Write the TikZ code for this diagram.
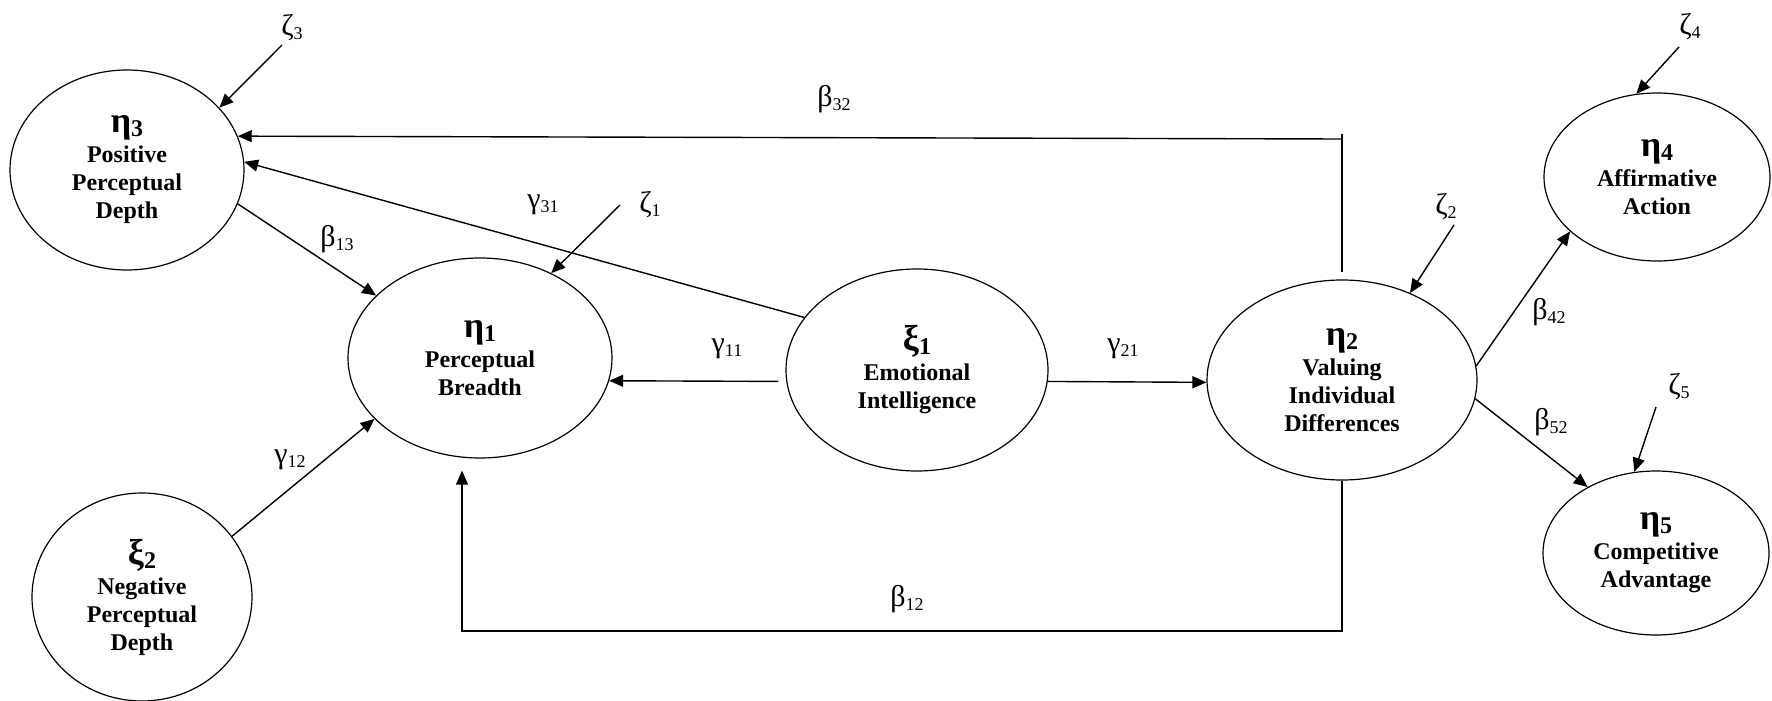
\documentclass[tikz,border=0pt]{standalone}
\usepackage{fontspec}
\setmainfont{Liberation Serif}
\usetikzlibrary{arrows.meta, shapes.geometric}

% latent variable label: large greek letter with bold index
\newcommand{\lat}[2]{{\fontsize{18}{18}\selectfont #1}\raisebox{-2pt}{#2}}
% path coefficient label
\newcommand{\cf}[2]{{\fontsize{15}{16}\selectfont #1}\raisebox{-2pt}{\fontsize{9}{10}\selectfont #2}}

\tikzset{
  latent/.style={draw, ellipse, line width=0.6pt, inner sep=0pt, align=center,
    font=\bfseries\fontsize{12}{14}\selectfont},
  effect/.style={line width=0.7pt, -{Triangle[length=7pt,width=6pt]}},
  link/.style={line width=0.7pt},
  coef/.style={inner sep=1pt},
}

\begin{document}
\begin{tikzpicture}[x=0.5pt, y=-0.5pt]
    \useasboundingbox (0,0) rectangle (1772,701);

    % --- latent variables ---
    \node[latent, minimum width=117pt, minimum height=100pt] (eta3) at (127,170)
        {\lat{η}{3}\\[1pt]Positive\\Perceptual\\Depth};
    \node[latent, minimum width=132pt, minimum height=100pt] (eta1) at (480,358)
        {\lat{η}{1}\\[1pt]Perceptual\\Breadth};
    \node[latent, minimum width=131pt, minimum height=101pt] (xi1) at (917,370)
        {\lat{ξ}{1}\\[1pt]Emotional\\Intelligence};
    \node[latent, minimum width=135pt, minimum height=100pt] (eta2) at (1342,380)
        {\lat{η}{2}\\[1pt]Valuing\\Individual\\Differences};
    \node[latent, minimum width=113pt, minimum height=84pt] (eta4) at (1657,177)
        {\lat{η}{4}\\[1pt]Affirmative\\Action};
    \node[latent, minimum width=113pt, minimum height=82pt] (eta5) at (1656,553)
        {\lat{η}{5}\\[1pt]Competitive\\Advantage};
    \node[latent, minimum width=110pt, minimum height=104pt] (xi2) at (142,597)
        {\lat{ξ}{2}\\[1pt]Negative\\Perceptual\\Depth};

    % --- disturbances ---
    \node[coef] (z3) at (292,28) {\cf{ζ}{3}};
    \node[coef] (z1) at (650,205) {\cf{ζ}{1}};
    \node[coef] (z2) at (1446,207) {\cf{ζ}{2}};
    \node[coef] (z4) at (1690,27) {\cf{ζ}{4}};
    \node[coef] (z5) at (1679,387) {\cf{ζ}{5}};
    \coordinate (z3s) at (282,45);
    \coordinate (z1s) at (620,205);
    \coordinate (z2s) at (1454,225);
    \coordinate (z4s) at (1679,47);
    \coordinate (z5s) at (1656,407);

    \draw[effect] (z3s) -- (eta3.34);
    \draw[effect] (z1s) -- (eta1.50);
    \draw[effect] (z2s) -- (eta2.52);
    \draw[effect] (z4s) -- (eta4.104);
    \draw[effect] (z5s) -- (eta5.105);

    % --- structural paths ---
    \draw[effect, shorten <=4pt] (xi1.185) -- (eta1.-10);
    \draw[effect] (xi1.-5) -- (eta2.181);
    \draw[effect] (xi1.155) -- (eta3.4);
    \draw[effect] (eta3.-17) -- (eta1.149);
    \draw[effect] (xi2.34) -- (eta1.210);
    \draw[effect] (eta2.6) -- (eta4.212);
    \draw[effect] (eta2.-8) -- (eta5.136);

    % feedback eta2 -> eta3 over the top
    \coordinate (b32) at (1342,139);
    \draw[link, shorten <=3.5pt] (eta2.north) -- ([yshift=2.5pt]b32);
    \draw[effect] (b32) -- (eta3.17);

    % feedback eta2 -> eta1 underneath
    \coordinate (b12) at (462,631);
    \draw[effect, shorten >=6pt] (eta2.south) |- (b12) -- (b12 |- eta1.south);

    % --- coefficients ---
    \node[coef] (lb32) at (834,99) {\cf{β}{32}};
    \node[coef] (lg31) at (543,205) {\cf{γ}{31}};
    \node[coef] (lb13) at (337,239) {\cf{β}{13}};
    \node[coef] (lg11) at (727,349) {\cf{γ}{11}};
    \node[coef] (lg21) at (1123,349) {\cf{γ}{21}};
    \node[coef] (lg12) at (290,460) {\cf{γ}{12}};
    \node[coef] (lb12) at (907,599) {\cf{β}{12}};
    \node[coef] (lb42) at (1549,312) {\cf{β}{42}};
    \node[coef] (lb52) at (1551,422) {\cf{β}{52}};

\end{tikzpicture}
\end{document}
